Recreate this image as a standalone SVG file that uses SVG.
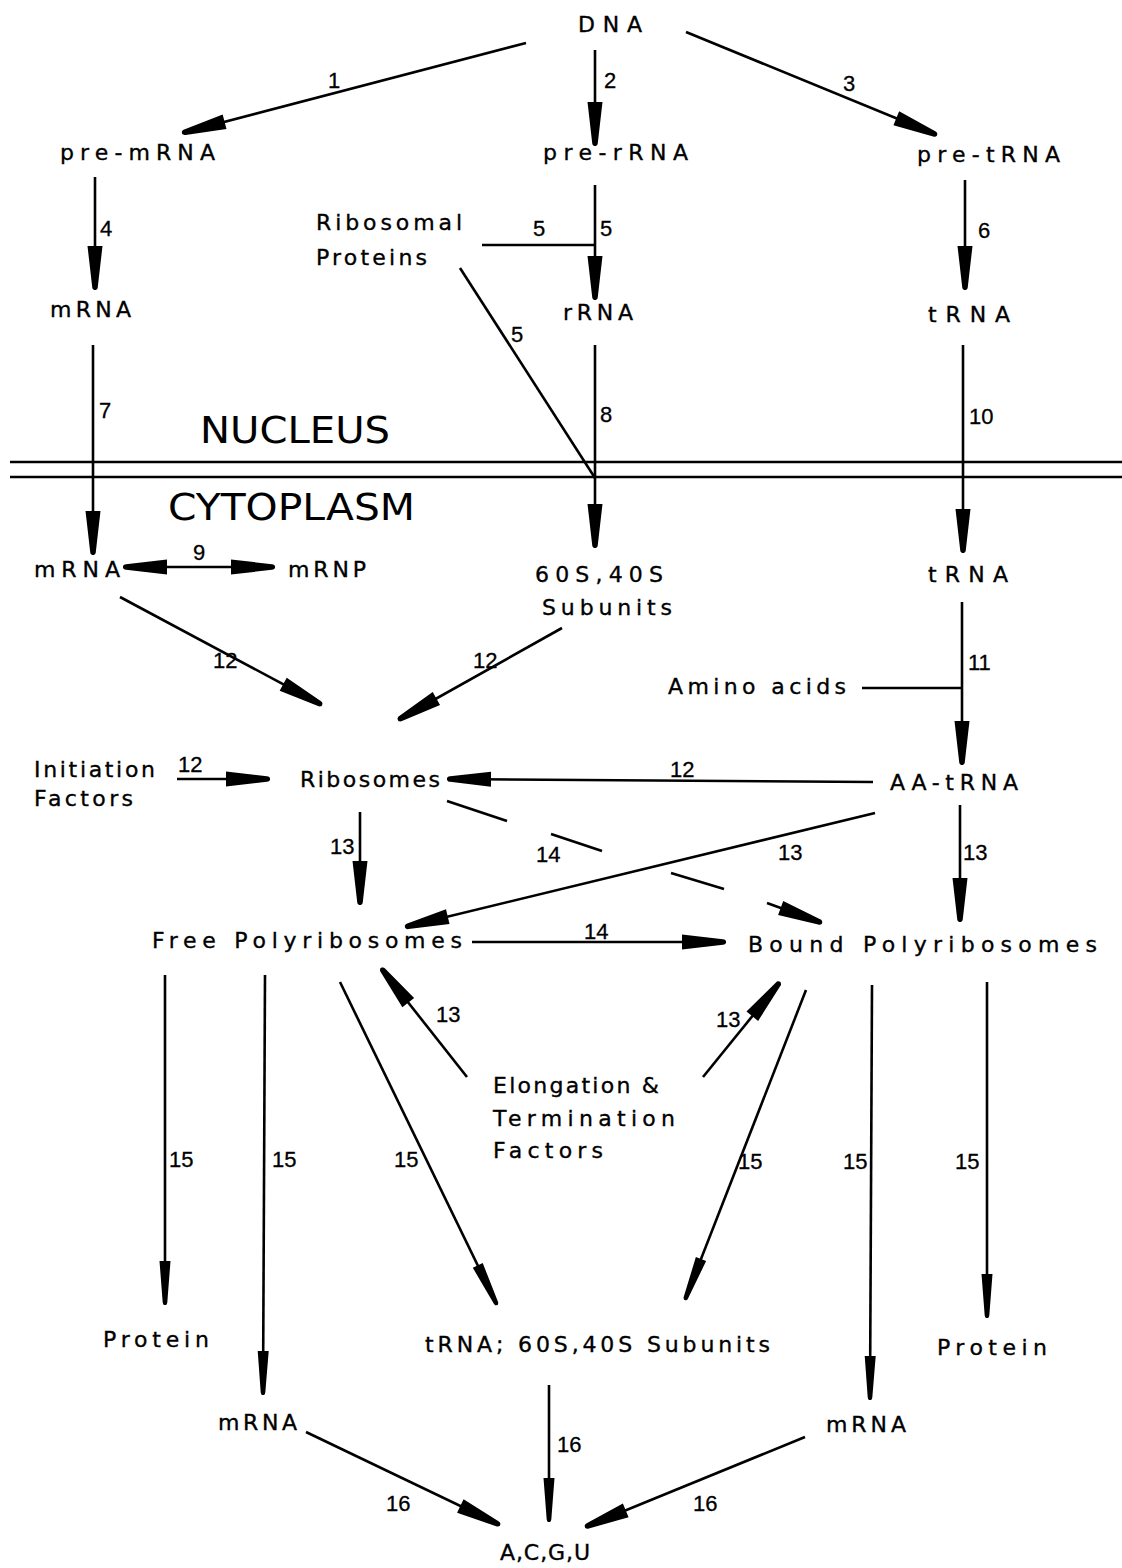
<svg xmlns="http://www.w3.org/2000/svg" width="1122" height="1568" viewBox="0 0 1122 1568">
<defs>
<style>
.t{font-family:"DejaVu Sans","Liberation Sans",sans-serif;font-size:22px;fill:#000;stroke:#000;stroke-width:0.35}
.n{font-family:"Liberation Sans","DejaVu Sans",sans-serif;font-size:22px;fill:#000;stroke:#000;stroke-width:0.3}
.big{font-family:"DejaVu Sans","Liberation Sans",sans-serif;font-size:37px;fill:#000}
.c line,.c path{stroke:#000;stroke-width:2.6;fill:none}
.a{marker-end:url(#ah)}
.b{marker-end:url(#ah2)}
</style>
<marker id="ah" viewBox="-48 -9 50 18" refX="0" refY="0" markerWidth="50" markerHeight="18" orient="auto-start-reverse" markerUnits="userSpaceOnUse">
<path d="M-44,-7.5 L-3,-2.8 A2.8,2.8 0 0 1 -3,2.8 L-44,7.5 Z" fill="#000"/>
</marker>
<marker id="ah2" viewBox="-48 -8 50 16" refX="0" refY="0" markerWidth="50" markerHeight="16" orient="auto-start-reverse" markerUnits="userSpaceOnUse">
<path d="M-44,-5.5 L-2.5,-2.3 A2.3,2.3 0 0 1 -2.5,2.3 L-44,5.5 Z" fill="#000"/>
</marker>
</defs>
<rect width="1122" height="1568" fill="#fff"/>

<g id="membrane" class="c">
<line x1="10" y1="462" x2="1122" y2="462"/>
<line x1="10" y1="477" x2="1122" y2="477"/>
</g>
<g id="region-labels">
<text class="big" x="200" y="443" textLength="190" lengthAdjust="spacingAndGlyphs">NUCLEUS</text>
<text class="big" x="168" y="520" textLength="247" lengthAdjust="spacingAndGlyphs">CYTOPLASM</text>
</g>

<g id="node-dna"><text class="t" x="578" y="32" textLength="64">DNA</text></g>
<g id="node-pre-mrna"><text class="t" x="60" y="160" textLength="155">pre-mRNA</text></g>
<g id="node-pre-rrna"><text class="t" x="543" y="160" textLength="145">pre-rRNA</text></g>
<g id="node-pre-trna"><text class="t" x="917" y="162" textLength="143">pre-tRNA</text></g>
<g id="node-ribosomal-proteins"><text class="t" x="316" y="230" textLength="146">Ribosomal</text><text class="t" x="316" y="265" textLength="111">Proteins</text></g>
<g id="node-mrna-n"><text class="t" x="50" y="317" textLength="81">mRNA</text></g>
<g id="node-rrna"><text class="t" x="563" y="320" textLength="70">rRNA</text></g>
<g id="node-trna-n"><text class="t" x="928" y="322" textLength="82">tRNA</text></g>
<g id="node-mrna-c"><text class="t" x="34" y="577" textLength="86">mRNA</text></g>
<g id="node-mrnp"><text class="t" x="288" y="577" textLength="78">mRNP</text></g>
<g id="node-subunits"><text class="t" x="535" y="582" textLength="128">60S,40S</text><text class="t" x="542" y="615" textLength="130">Subunits</text></g>
<g id="node-trna-c"><text class="t" x="928" y="582" textLength="80">tRNA</text></g>
<g id="node-amino-acids"><text class="t" x="668" y="694" textLength="178">Amino acids</text></g>
<g id="node-initiation"><text class="t" x="34" y="777" textLength="121">Initiation</text><text class="t" x="34" y="806" textLength="99">Factors</text></g>
<g id="node-ribosomes"><text class="t" x="300" y="787" textLength="140">Ribosomes</text></g>
<g id="node-aa-trna"><text class="t" x="890" y="790" textLength="128">AA-tRNA</text></g>
<g id="node-free-poly"><text class="t" x="152" y="948" textLength="310">Free  Polyribosomes</text></g>
<g id="node-bound-poly"><text class="t" x="748" y="952" textLength="349">Bound  Polyribosomes</text></g>
<g id="node-elongation"><text class="t" x="493" y="1093" textLength="166">Elongation &amp;</text><text class="t" x="493" y="1126" textLength="182">Termination</text><text class="t" x="493" y="1158" textLength="110">Factors</text></g>
<g id="node-protein-l"><text class="t" x="103" y="1347" textLength="106">Protein</text></g>
<g id="node-trna-subunits"><text class="t" x="425" y="1352" textLength="345">tRNA; 60S,40S  Subunits</text></g>
<g id="node-protein-r"><text class="t" x="937" y="1355" textLength="110">Protein</text></g>
<g id="node-mrna-bl"><text class="t" x="218" y="1430" textLength="79">mRNA</text></g>
<g id="node-mrna-br"><text class="t" x="826" y="1432" textLength="80">mRNA</text></g>
<g id="node-acgu"><text class="t" x="500" y="1560" textLength="90">A,C,G,U</text></g>

<g id="connectors" class="c">
<line class="a" x1="526" y1="43" x2="182" y2="133"/>
<line class="a" x1="595" y1="50" x2="595" y2="146"/>
<line class="a" x1="686" y1="32" x2="937" y2="135"/>
<line class="a" x1="95" y1="177" x2="95" y2="290"/>
<line class="a" x1="595" y1="185" x2="595" y2="300"/>
<line x1="482" y1="245" x2="595" y2="245"/>
<line x1="460" y1="268" x2="595" y2="478"/>
<line class="a" x1="965" y1="180" x2="965" y2="290"/>
<line class="a" x1="93" y1="345" x2="93" y2="555"/>
<line class="a" x1="595" y1="345" x2="595" y2="548"/>
<line class="a" x1="963" y1="345" x2="963" y2="553"/>
<line class="a" x1="123" y1="567" x2="275" y2="567" style="marker-start:url(#ah)"/>
<line class="a" x1="120" y1="597" x2="322" y2="705"/>
<line class="a" x1="562" y1="628" x2="398" y2="720"/>
<line class="a" x1="962" y1="602" x2="962" y2="765"/>
<line x1="862" y1="688" x2="962" y2="688"/>
<line class="a" x1="177" y1="779" x2="270" y2="779"/>
<line class="a" x1="873" y1="782" x2="447" y2="779"/>
<line class="a" x1="360" y1="812" x2="360" y2="905"/>
<line class="a" x1="875" y1="813" x2="405" y2="927"/>
<line class="a" x1="960" y1="805" x2="960" y2="922"/>
<line x1="447" y1="801" x2="507" y2="821"/>
<line x1="551" y1="834" x2="602" y2="851"/>
<line x1="671" y1="873" x2="724" y2="889"/>
<line class="a" x1="767" y1="903" x2="822" y2="923"/>
<line class="a" x1="472" y1="942" x2="726" y2="942"/>
<line class="a" x1="467" y1="1077" x2="381" y2="968"/>
<line class="a" x1="703" y1="1077" x2="780" y2="982"/>
<line class="b" x1="165" y1="975" x2="165" y2="1305"/>
<line class="b" x1="265" y1="975" x2="263" y2="1395"/>
<line class="b" x1="340" y1="982" x2="497" y2="1305"/>
<line class="b" x1="806" y1="990" x2="685" y2="1300"/>
<line class="b" x1="872" y1="985" x2="870" y2="1400"/>
<line class="b" x1="987" y1="982" x2="987" y2="1318"/>
<line class="a" x1="306" y1="1432" x2="500" y2="1525"/>
<line class="b" x1="549" y1="1385" x2="549" y2="1522"/>
<line class="a" x1="805" y1="1437" x2="585" y2="1527"/>
</g>

<g id="connector-labels">
<text class="n" x="328" y="88">1</text>
<text class="n" x="604" y="88">2</text>
<text class="n" x="843" y="91">3</text>
<text class="n" x="100" y="236">4</text>
<text class="n" x="533" y="236">5</text>
<text class="n" x="600" y="236">5</text>
<text class="n" x="511" y="342">5</text>
<text class="n" x="978" y="238">6</text>
<text class="n" x="99" y="418">7</text>
<text class="n" x="600" y="422">8</text>
<text class="n" x="969" y="424">10</text>
<text class="n" x="193" y="560">9</text>
<text class="n" x="213" y="668">12</text>
<text class="n" x="473" y="668">12</text>
<text class="n" x="968" y="670">11</text>
<text class="n" x="178" y="772">12</text>
<text class="n" x="670" y="777">12</text>
<text class="n" x="330" y="854">13</text>
<text class="n" x="536" y="862">14</text>
<text class="n" x="778" y="860">13</text>
<text class="n" x="963" y="860">13</text>
<text class="n" x="584" y="939">14</text>
<text class="n" x="436" y="1022">13</text>
<text class="n" x="716" y="1027">13</text>
<text class="n" x="169" y="1167">15</text>
<text class="n" x="272" y="1167">15</text>
<text class="n" x="394" y="1167">15</text>
<text class="n" x="738" y="1169">15</text>
<text class="n" x="843" y="1169">15</text>
<text class="n" x="955" y="1169">15</text>
<text class="n" x="557" y="1452">16</text>
<text class="n" x="386" y="1511">16</text>
<text class="n" x="693" y="1511">16</text>
</g>
</svg>
